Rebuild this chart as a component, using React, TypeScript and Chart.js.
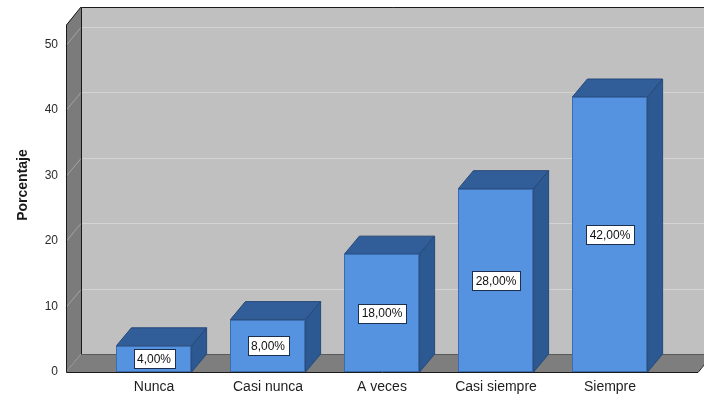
import React, { useEffect, useRef } from 'react';
import { Chart, registerables } from 'chart.js';

Chart.register(...registerables);

const categories = ['Nunca', 'Casi nunca', 'A veces', 'Casi siempre', 'Siempre'];
const percentages = [4, 8, 18, 28, 42];
const percentLabels = ['4,00%', '8,00%', '18,00%', '28,00%', '42,00%'];
const yTicks = [0, 10, 20, 30, 40, 50];
const yMax = 53;
const axisTitle = 'Porcentaje';

const FONT = '"Liberation Sans", Arial, Helvetica, sans-serif';
const DX = 15;
const DY = -18;
const SIDE_GAP = 31;

const frame3d = {
  id: 'frame3d',
  beforeDraw(chart: any) {
    const ctx = chart.ctx;
    const area = chart.chartArea;
    const ys = chart.scales.y;
    ctx.save();
    ctx.fillStyle = '#ffffff';
    ctx.fillRect(0, 0, chart.width, chart.height);

    const L = area.left - SIDE_GAP;
    const R = area.right + SIDE_GAP;
    const T = ys.getPixelForValue(yMax);
    const B = ys.getPixelForValue(0);

    // back wall
    ctx.fillStyle = '#c0c0c0';
    ctx.fillRect(L + DX, T + DY, R - L, B - T);

    // side wall
    ctx.fillStyle = '#7b7b7b';
    ctx.beginPath();
    ctx.moveTo(L, T);
    ctx.lineTo(L + DX, T + DY);
    ctx.lineTo(L + DX, B + DY);
    ctx.lineTo(L, B);
    ctx.closePath();
    ctx.fill();

    // floor
    ctx.fillStyle = '#7e7e7e';
    ctx.beginPath();
    ctx.moveTo(L, B);
    ctx.lineTo(L + DX, B + DY);
    ctx.lineTo(R + DX, B + DY);
    ctx.lineTo(R, B);
    ctx.closePath();
    ctx.fill();

    // grid lines
    ctx.lineWidth = 1;
    for (const v of yTicks) {
      if (v === 0) continue;
      const y = Math.round(ys.getPixelForValue(v)) + 0.5;
      ctx.strokeStyle = '#d4d4d4';
      ctx.beginPath();
      ctx.moveTo(L + DX, y + DY);
      ctx.lineTo(R + DX, y + DY);
      ctx.stroke();
      ctx.strokeStyle = '#a4a4a4';
      ctx.beginPath();
      ctx.moveTo(L, y);
      ctx.lineTo(L + DX, y + DY);
      ctx.stroke();
    }

    // outlines
    ctx.strokeStyle = '#1a1a1a';
    ctx.lineWidth = 1;
    ctx.beginPath();
    ctx.moveTo(R + DX, T + DY + 0.5);
    ctx.lineTo(L + DX + 0.5, T + DY + 0.5);
    ctx.lineTo(L + DX + 0.5, B + DY);
    ctx.stroke();
    ctx.strokeStyle = '#5a5a5a';
    ctx.beginPath();
    ctx.moveTo(L + DX, B + DY + 0.5);
    ctx.lineTo(R + DX, B + DY + 0.5);
    ctx.stroke();
    ctx.strokeStyle = '#1a1a1a';
    ctx.beginPath();
    ctx.moveTo(L + DX, T + DY);
    ctx.lineTo(L + 0.5, T);
    ctx.lineTo(L + 0.5, B + 0.5);
    ctx.lineTo(R, B + 0.5);
    ctx.lineTo(R + DX, B + DY);
    ctx.stroke();

    // axis title
    ctx.translate(23, 185);
    ctx.rotate(-Math.PI / 2);
    ctx.fillStyle = '#1a1a1a';
    ctx.font = 'bold 14px ' + FONT;
    ctx.textAlign = 'center';
    ctx.textBaseline = 'middle';
    ctx.fillText(axisTitle, 0, 0);
    ctx.restore();
  },
  afterDatasetsDraw(chart: any) {
    const ctx = chart.ctx;
    const meta = chart.getDatasetMeta(0);
    ctx.save();
    meta.data.forEach((bar: any, i: number) => {
      const { x, y, base, width } = bar.getProps(['x', 'y', 'base', 'width'], true);
      const left = x - width / 2;
      const right = x + width / 2;
      ctx.lineWidth = 1;
      // top face
      ctx.fillStyle = '#315d99';
      ctx.strokeStyle = '#27497a';
      ctx.beginPath();
      ctx.moveTo(left, y);
      ctx.lineTo(left + DX, y + DY);
      ctx.lineTo(right + DX, y + DY);
      ctx.lineTo(right, y);
      ctx.closePath();
      ctx.fill();
      ctx.stroke();
      // side face
      ctx.fillStyle = '#2c5991';
      ctx.beginPath();
      ctx.moveTo(right, y);
      ctx.lineTo(right + DX, y + DY);
      ctx.lineTo(right + DX, base + DY);
      ctx.lineTo(right, base);
      ctx.closePath();
      ctx.fill();
      ctx.stroke();
      // front outline
      ctx.strokeStyle = '#3a6cae';
      ctx.strokeRect(Math.round(left) + 0.5, Math.round(y) + 0.5, Math.round(width) - 1, Math.round(base - y) - 1);

      // value label
      ctx.font = '12px ' + FONT;
      const label = percentLabels[i];
      const tw = ctx.measureText(label).width;
      const bw = Math.round(tw + 7);
      const bh = 19;
      const cy = (y + base) / 2;
      const bx = Math.round(x - bw / 2) + 0.5;
      const by = Math.round(cy - bh / 2) + 0.5;
      ctx.fillStyle = '#ffffff';
      ctx.fillRect(bx, by, bw, bh);
      ctx.strokeStyle = '#1c2f4f';
      ctx.strokeRect(bx, by, bw, bh);
      ctx.fillStyle = '#111111';
      ctx.textAlign = 'center';
      ctx.textBaseline = 'middle';
      ctx.fillText(label, x, cy + 1);
    });
    ctx.restore();
  },
};

export default function App() {
  const ref = useRef<HTMLCanvasElement | null>(null);
  useEffect(() => {
    document.body.style.margin = '0';
    const canvas = ref.current;
    if (!canvas) return;
    const chart = new Chart(canvas, {
      type: 'bar',
      data: {
        labels: categories,
        datasets: [
          {
            data: percentages,
            backgroundColor: '#5593e1',
            borderWidth: 0,
            categoryPercentage: 1,
            barPercentage: 0.66,
          },
        ],
      },
      options: {
        responsive: false,
        animation: false,
        devicePixelRatio: 1,
        layout: { padding: { top: 25, right: 37, bottom: 0, left: 0 } },
        plugins: { legend: { display: false }, tooltip: { enabled: false } },
        scales: {
          x: {
            grid: { display: false, drawTicks: false },
            border: { display: false },
            ticks: {
              color: '#1e1e1e',
              font: { family: FONT, size: 14 },
              padding: 7,
              maxRotation: 0,
              autoSkip: false,
            },
            afterFit: (scale: any) => {
              scale.height = 24;
              scale.paddingLeft = 0;
              scale.paddingRight = 0;
            },
          },
          y: {
            min: 0,
            max: yMax,
            grid: { display: false, drawTicks: false },
            border: { display: false },
            ticks: {
              color: '#2a2a2a',
              font: { family: FONT, size: 12 },
              padding: 39,
            },
            afterBuildTicks: (scale: any) => {
              scale.ticks = yTicks.map((v) => ({ value: v }));
            },
            afterFit: (scale: any) => {
              scale.width = 97;
              scale.paddingTop = 0;
              scale.paddingBottom = 0;
            },
          },
        },
      },
      plugins: [frame3d],
    });
    return () => chart.destroy();
  }, []);
  return (
    <div style={{ position: 'absolute', left: 0, top: 0, width: 704, height: 396, background: '#fff' }}>
      <canvas ref={ref} width={704} height={396} style={{ display: 'block' }} />
    </div>
  );
}
